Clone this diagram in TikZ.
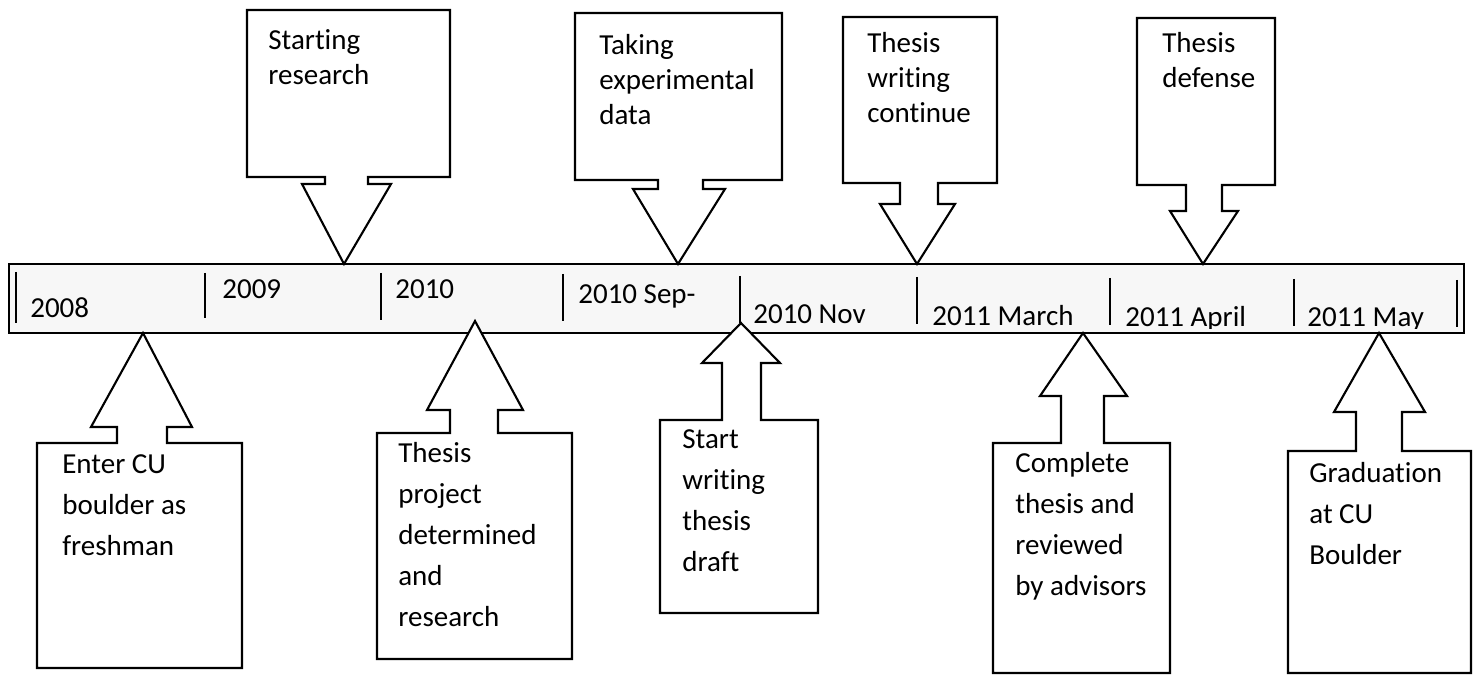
\documentclass[tikz,border=0pt]{standalone}
\usepackage{fontspec}
\setmainfont{Carlito}[Ligatures=NoCommon]
\begin{document}
\begin{tikzpicture}[x=0.02cm, y=-0.02cm,
    callout/.style={draw=black, line width=1.2pt, fill=white},
    bar/.style={draw=black, line width=1.2pt, fill=gray!6},
    tick/.style={line width=1.1pt},
    year/.style={anchor=base west, inner sep=0pt, font=\fontsize{16.5}{20}\selectfont},
    uptext/.style={anchor=base west, inner sep=0pt, align=left, font=\fontsize{16.5}{20}\selectfont},
    lowtext/.style={anchor=base west, inner sep=0pt, align=left, font=\fontsize{16.5}{23.2}\selectfont}]

    \useasboundingbox (0,0) rectangle (1479,675);

    % timeline bar
    \draw[bar] (9,264) rectangle (1464,333);
    \draw[tick] (16,272) -- (16,323);
    \draw[tick] (205,273) -- (205,318);
    \draw[tick] (381,273) -- (381,320);
    \draw[tick] (563,274) -- (563,321);
    \draw[tick] (740,276) -- (740,323);
    \draw[tick] (917,277) -- (917,324);
    \draw[tick] (1110,278) -- (1110,325);
    \draw[tick] (1294,279) -- (1294,326);
    \draw[tick] (1457,280) -- (1457,327);

    \begin{scope}
        \clip (9,264) rectangle (1464,328);
        \node[year] (y2008) at (30,317) {2008};
        \node[year] (y2009) at (222,298) {2009};
        \node[year] (y2010) at (395,298) {2010};
        \node[year] (ySep) at (578,303) {2010 Sep-};
        \node[year] (yNov) at (753,323) {2010 Nov};
        \node[year] (yMar) at (932,325) {2011 March};
        \node[year] (yApr) at (1125,326) {2011 April};
        \node[year] (yMay) at (1307,326) {2011 May};
    \end{scope}

    % points where the callouts touch the bar
    \coordinate (tipStart) at (344,264);
    \coordinate (tipData) at (678,264);
    \coordinate (tipCont) at (917,264);
    \coordinate (tipDef) at (1203,264);
    \coordinate (tipEnter) at (143,333);
    \coordinate (tipProj) at (475,321);
    \coordinate (tipDraft) at (741,323);
    \coordinate (tipRev) at (1083,333);
    \coordinate (tipGrad) at (1379,333);

    % callouts above the bar (text anchored at its last line)
    \draw[callout] (247,10) -- (450,10) -- (450,177) -- (368,177) -- (368,184) -- (391,184) -- (tipStart)
        -- (302,184) -- (325,184) -- (325,177) -- (247,177) -- cycle;
    \node[uptext] (start) at (268,85) {Starting\\research};

    \draw[callout] (575,13) -- (782,13) -- (782,180) -- (703,180) -- (703,189) -- (725,189) -- (tipData)
        -- (633,189) -- (658,189) -- (658,180) -- (575,180) -- cycle;
    \node[uptext] (data) at (599,125) {Taking\\experimental\\data};

    \draw[callout] (843,17) -- (997,17) -- (997,183) -- (938,183) -- (938,204) -- (955,204) -- (tipCont)
        -- (880,204) -- (900,204) -- (900,183) -- (843,183) -- cycle;
    \node[uptext] (cont) at (867,123) {Thesis\\writing\\continue};

    \draw[callout] (1137,18) -- (1275,18) -- (1275,185) -- (1222,185) -- (1222,211) -- (1238,211) -- (tipDef)
        -- (1170,211) -- (1186,211) -- (1186,185) -- (1137,185) -- cycle;
    \node[uptext] (def) at (1162,88) {Thesis\\defense};

    % callouts below the bar
    \draw[callout] (37,668) -- (37,443) -- (117,443) -- (117,427) -- (91,427) -- (tipEnter)
        -- (192,427) -- (167,427) -- (167,443) -- (242,443) -- (242,668) -- cycle;
    \node[lowtext] (enter) at (62,555) {Enter CU\\boulder as\\freshman};

    \draw[callout] (377,659) -- (377,433) -- (450,433) -- (450,410) -- (427,410) -- (tipProj)
        -- (523,410) -- (498,410) -- (498,433) -- (572,433) -- (572,659) -- cycle;
    \node[lowtext] (proj) at (398,626) {Thesis\\project\\determined\\and\\research};

    \draw[callout] (660,613) -- (660,420) -- (722,420) -- (722,363) -- (702,363) -- (tipDraft)
        -- (780,363) -- (761,363) -- (761,420) -- (818,420) -- (818,613) -- cycle;
    \node[lowtext] (draft) at (682,571) {Start\\writing\\thesis\\draft};

    \draw[callout] (993,673) -- (993,443) -- (1061,443) -- (1061,396) -- (1040,396) -- (tipRev)
        -- (1127,396) -- (1104,396) -- (1104,443) -- (1170,443) -- (1170,673) -- cycle;
    \node[lowtext] (rev) at (1015,595) {Complete\\thesis and\\reviewed\\by advisors};

    \draw[callout] (1288,673) -- (1288,451) -- (1356,451) -- (1356,412) -- (1334,412) -- (tipGrad)
        -- (1425,412) -- (1402,412) -- (1402,451) -- (1471,451) -- (1471,673) -- cycle;
    \node[lowtext] (grad) at (1309,564) {Graduation\\at CU\\Boulder};

\end{tikzpicture}
\end{document}
